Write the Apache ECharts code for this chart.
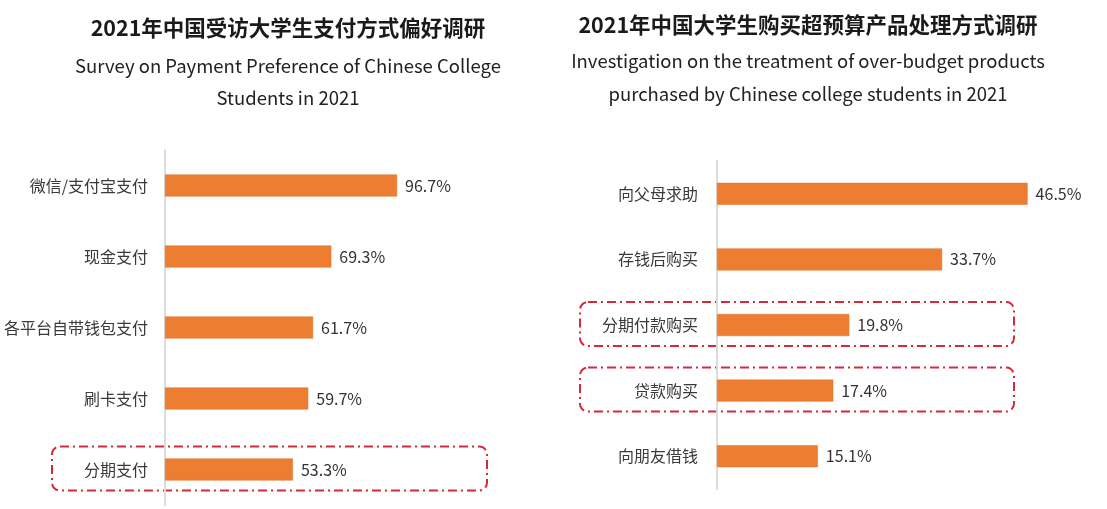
<!DOCTYPE html>
<html>
<head>
<meta charset="utf-8">
<script src="https://cdn.jsdelivr.net/npm/echarts@6/dist/echarts.min.js"></script>
<style>
  html, body { margin: 0; padding: 0; background: #fff; }
  #main { width: 1107px; height: 509px; }
</style>
</head>
<body>
<div id="main"></div>
<script>
// 支付方式偏好
const payCats = ['微信/支付宝支付', '现金支付', '各平台自带钱包支付', '刷卡支付', '分期支付'];
const payValues = [96.7, 69.3, 61.7, 59.7, 53.3];
const payMarked = ['分期支付'];

// 超预算产品处理方式
const overCats = ['向父母求助', '存钱后购买', '分期付款购买', '贷款购买', '向朋友借钱'];
const overValues = [46.5, 33.7, 19.8, 17.4, 15.1];
const overMarked = ['分期付款购买', '贷款购买'];

const FONT = '"Noto Sans CJK SC", "Noto Sans", sans-serif';
const ORANGE = '#ED7D31';

const makeTitle = (left, top, gap, text, sub, lh) => ({
  text: text,
  subtext: sub,
  left: left,
  top: top,
  textAlign: 'center',
  itemGap: gap,
  textStyle: { fontFamily: FONT, fontSize: 21.5, fontWeight: 'bold', color: '#1a1a1a' },
  subtextStyle: { fontFamily: FONT, fontSize: 18.5, color: '#222', lineHeight: lh }
});

const catAxis = (idx, cats, margin) => ({
  type: 'category',
  gridIndex: idx,
  data: cats,
  inverse: true,
  axisTick: { show: false },
  axisLine: { lineStyle: { color: '#dcdcdc', width: 2 } },
  axisLabel: { fontFamily: FONT, fontSize: 16, color: '#3a3a3a', margin: margin }
});

const valAxis = (idx, max) => ({
  type: 'value',
  gridIndex: idx,
  min: 0,
  max: max,
  show: false,
  splitLine: { show: false }
});

const barSeries = (idx, values) => ({
  type: 'bar',
  xAxisIndex: idx,
  yAxisIndex: idx,
  data: values,
  barWidth: 22,
  itemStyle: { color: ORANGE, borderColor: '#e0722a', borderWidth: 0.5 },
  label: {
    show: true,
    position: 'right',
    distance: 8,
    fontFamily: FONT,
    fontSize: 16,
    color: '#333',
    formatter: (p) => p.value.toFixed(1) + '%'
  },
  silent: true
});

const chart = echarts.init(document.getElementById('main'));
chart.setOption({
  animation: false,
  title: [
    makeTitle(283, 12, 11.5, '2021年中国受访大学生支付方式偏好调研',
      'Survey on Payment Preference of Chinese College\nStudents in 2021', 32),
    makeTitle(803, 9, 9, '2021年中国大学生购买超预算产品处理方式调研',
      'Investigation on the treatment of over-budget products\npurchased by Chinese college students in 2021', 33)
  ],
  grid: [
    { left: 165, top: 150, width: 240, height: 355 },
    { left: 717, top: 161, width: 334, height: 328 }
  ],
  xAxis: [valAxis(0, 100), valAxis(1, 50)],
  yAxis: [catAxis(0, payCats, 17), catAxis(1, overCats, 19)],
  series: [barSeries(0, payValues), barSeries(1, overValues)]
});

// 红色点划线框，位置按类目中心计算
const boxes = [];
const addBoxes = (idx, marked, x0, x1) => {
  marked.forEach((name) => {
    const y = chart.convertToPixel({ yAxisIndex: idx }, name);
    boxes.push({
      type: 'rect',
      shape: { x: x0, y: y - 23, width: x1 - x0, height: 44, r: 8 },
      style: { fill: 'none', stroke: '#d42a3a', lineWidth: 2, lineDash: [9, 4, 2, 4] },
      silent: true
    });
  });
};
addBoxes(0, payMarked, 52, 487);
addBoxes(1, overMarked, 580, 1014);
chart.setOption({ graphic: boxes });
</script>
</body>
</html>
